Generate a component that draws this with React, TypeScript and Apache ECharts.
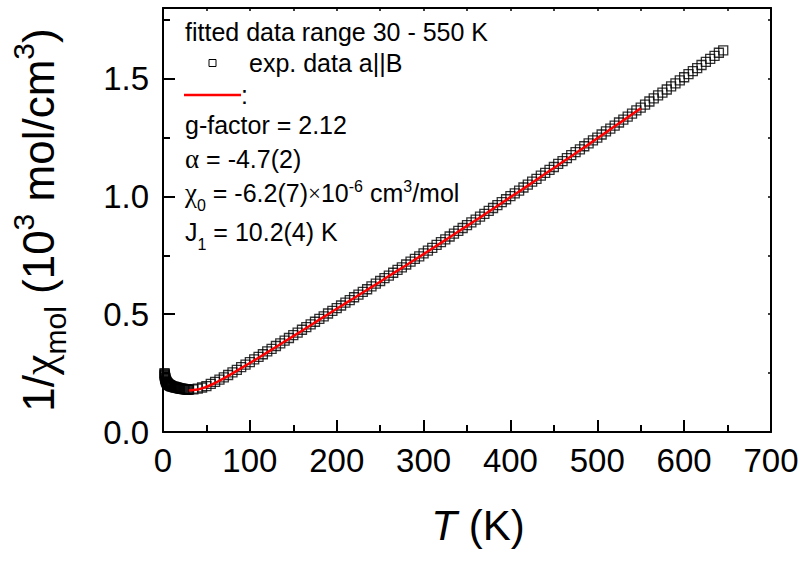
import React, { useEffect, useRef } from 'react';
import * as echarts from 'echarts';

// Low-temperature experimental points (K, 10^3 mol/cm^3)
const lowT = [1.8, 1.9, 2, 2.1, 2.2, 2.4, 2.5, 2.7, 3, 3.3, 3.5, 3.8, 4, 4.5, 5, 5.5, 6, 6.5, 7, 7.5, 8, 8.5, 9, 9.5, 10, 11, 12, 13, 14, 15, 16, 17, 18, 19, 20, 21, 22, 23, 24, 25, 26, 27, 28, 29];
const lowV = [0.250, 0.246, 0.242, 0.239, 0.236, 0.232, 0.229, 0.226, 0.222, 0.219, 0.216, 0.214, 0.212, 0.209, 0.207, 0.205, 0.203, 0.201, 0.200, 0.199, 0.198, 0.197, 0.196, 0.195, 0.194, 0.193, 0.192, 0.191, 0.190, 0.189, 0.188, 0.187, 0.186, 0.185, 0.184, 0.184, 0.183, 0.183, 0.182, 0.182, 0.181, 0.181, 0.180, 0.180];

// Experimental points 30 - 645 K
const expT = [
  30, 35, 40, 45, 50, 55, 60, 65, 70, 75, 80, 85, 90, 95, 100, 105, 110, 115, 120, 125,
  130, 135, 140, 145, 150, 155, 160, 165, 170, 175, 180, 185, 190, 195, 200, 205, 210, 215, 220, 225,
  230, 235, 240, 245, 250, 255, 260, 265, 270, 275, 280, 285, 290, 295, 300, 305, 310, 315, 320, 325,
  330, 335, 340, 345, 350, 355, 360, 365, 370, 375, 380, 385, 390, 395, 400, 405, 410, 415, 420, 425,
  430, 435, 440, 445, 450, 455, 460, 465, 470, 475, 480, 485, 490, 495, 500, 505, 510, 515, 520, 525,
  530, 535, 540, 545, 550, 555, 560, 565, 570, 575, 580, 585, 590, 595, 600, 605, 610, 615, 620, 625,
  630, 635, 640, 645,
];
const expV = [
  0.180, 0.181, 0.184, 0.189, 0.195, 0.204, 0.213, 0.222, 0.232, 0.242, 0.253, 0.264, 0.275, 0.286, 0.297, 0.308, 0.319, 0.330, 0.342, 0.353,
  0.365, 0.376, 0.388, 0.399, 0.411, 0.422, 0.434, 0.445, 0.457, 0.468, 0.480, 0.491, 0.503, 0.514, 0.526, 0.537, 0.549, 0.560, 0.572, 0.583,
  0.595, 0.606, 0.618, 0.630, 0.641, 0.653, 0.664, 0.676, 0.688, 0.699, 0.711, 0.723, 0.735, 0.746, 0.758, 0.770, 0.782, 0.794, 0.806, 0.818,
  0.830, 0.842, 0.854, 0.866, 0.878, 0.890, 0.902, 0.914, 0.926, 0.939, 0.951, 0.963, 0.976, 0.988, 1.001, 1.013, 1.025, 1.038, 1.050, 1.063,
  1.075, 1.088, 1.100, 1.113, 1.125, 1.138, 1.150, 1.163, 1.175, 1.188, 1.200, 1.213, 1.225, 1.238, 1.250, 1.263, 1.276, 1.288, 1.301, 1.314,
  1.326, 1.339, 1.352, 1.365, 1.377, 1.390, 1.403, 1.416, 1.429, 1.441, 1.454, 1.467, 1.480, 1.493, 1.506, 1.519, 1.532, 1.545, 1.558, 1.571,
  1.584, 1.597, 1.610, 1.620,
];

// Fit curve 30 - 550 K
const fitT = [30, 40, 50, 60, 70, 80, 90, 100, 110, 120, 130, 140, 150, 160, 170, 180, 190, 200, 210, 220, 230, 240, 250, 260, 270, 280, 290, 300, 310, 320, 330, 340, 350, 360, 370, 380, 390, 400, 410, 420, 430, 440, 450, 460, 470, 480, 490, 500, 510, 520, 530, 540, 550];
const fitV = [0.176, 0.180, 0.191, 0.208, 0.228, 0.249, 0.271, 0.293, 0.315, 0.338, 0.361, 0.384, 0.407, 0.430, 0.453, 0.477, 0.500, 0.523, 0.546, 0.569, 0.592, 0.615, 0.638, 0.662, 0.685, 0.708, 0.732, 0.755, 0.779, 0.803, 0.827, 0.851, 0.875, 0.899, 0.923, 0.948, 0.972, 0.997, 1.021, 1.046, 1.071, 1.096, 1.121, 1.146, 1.171, 1.196, 1.221, 1.247, 1.272, 1.298, 1.323, 1.349, 1.374];

const X_MIN = 0, X_MAX = 700, X_MAJOR = 100, X_MINOR = 50;
const Y_MIN = 0, Y_MAX = 1.8, Y_MAJOR = 0.5, Y_MINOR = 0.25;

const SANS = '"Liberation Sans", Arial, sans-serif';
const SERIF = '"Liberation Serif", "Times New Roman", serif';

export default function App() {
  const ref = useRef<HTMLDivElement>(null);
  useEffect(() => {
    if (!ref.current) return;
    const chart = echarts.init(ref.current, null, { renderer: 'svg' });
    const axisLine = { show: true, onZero: false, lineStyle: { color: '#000', width: 2 } };
    const noLabel = { show: false };
    const legendFont = 25;
    const rich = {
      n: { fontFamily: SANS, fontSize: legendFont, color: '#000' },
      g: { fontFamily: SERIF, fontSize: legendFont + 2, color: '#000' },
      x: { fontFamily: SERIF, fontSize: legendFont - 2, color: '#000' },
      sub: { fontFamily: SANS, fontSize: 16, color: '#000', padding: [24, 0, 0, 0] },
      sup: { fontFamily: SANS, fontSize: 16, color: '#000', padding: [0, 0, 14, 0] },
    };
    const option: any = {
      animation: false,
      backgroundColor: '#fff',
      grid: { left: 162, right: 35, top: 8, bottom: 131, containLabel: false },
      xAxis: [
        {
          type: 'value', min: X_MIN, max: X_MAX, interval: X_MAJOR, position: 'bottom',
          axisLine,
          axisTick: { show: true, inside: true, length: 12, lineStyle: { color: '#000', width: 2 } },
          axisLabel: { color: '#000', fontFamily: SANS, fontSize: 33, margin: 12 },
          splitLine: { show: false },
          name: '{i|T}{n| (K)}',
          nameLocation: 'middle',
          nameGap: 72,
          nameTextStyle: {
            padding: [0, 0, 0, 22],
            rich: {
              i: { fontFamily: SANS, fontSize: 42, fontStyle: 'italic', color: '#000' },
              n: { fontFamily: SANS, fontSize: 42, color: '#000' },
            },
          },
        },
        {
          type: 'value', min: X_MIN, max: X_MAX, interval: X_MINOR, position: 'bottom',
          axisLine: { show: false, onZero: false },
          axisTick: { show: true, inside: true, length: 7, lineStyle: { color: '#000', width: 2 } },
          axisLabel: noLabel, splitLine: { show: false },
        },
        {
          type: 'value', min: X_MIN, max: X_MAX, interval: X_MINOR, position: 'top',
          axisLine,
          axisTick: { show: true, inside: true, length: 3, lineStyle: { color: '#000', width: 1.5 } },
          axisLabel: noLabel, splitLine: { show: false },
        },
      ],
      yAxis: [
        {
          type: 'value', min: Y_MIN, max: Y_MAX, interval: Y_MAJOR, position: 'left',
          axisLine,
          axisTick: { show: true, inside: true, length: 12, lineStyle: { color: '#000', width: 2 } },
          axisLabel: {
            color: '#000', fontFamily: SANS, fontSize: 33, margin: 14, showMaxLabel: false,
            formatter: (v: number) => v.toFixed(1),
          },
          splitLine: { show: false },
          name: '{n|1/}{g|χ}{sub|mol}{n| (10}{sup|3}{n| mol/cm}{sup|3}{n|)}',
          nameLocation: 'middle',
          nameRotate: 90,
          nameGap: 93,
          nameTextStyle: {
            rich: {
              n: { fontFamily: SANS, fontSize: 44, color: '#000' },
              g: { fontFamily: SERIF, fontSize: 46, color: '#000' },
              sub: { fontFamily: SANS, fontSize: 30, color: '#000', padding: [34, 0, 0, 0] },
              sup: { fontFamily: SANS, fontSize: 30, color: '#000', padding: [0, 0, 30, 0] },
            },
          },
        },
        {
          type: 'value', min: Y_MIN, max: Y_MAX, interval: Y_MINOR, position: 'left',
          axisLine: { show: false, onZero: false },
          axisTick: { show: true, inside: true, length: 7, lineStyle: { color: '#000', width: 2 } },
          axisLabel: noLabel, splitLine: { show: false },
        },
        {
          type: 'value', min: Y_MIN, max: Y_MAX, interval: Y_MINOR, position: 'right',
          axisLine,
          axisTick: { show: true, inside: true, length: 3, lineStyle: { color: '#000', width: 1.5 } },
          axisLabel: noLabel, splitLine: { show: false },
        },
      ],
      series: [
        {
          name: 'exp. data a||B',
          type: 'scatter',
          xAxisIndex: 0, yAxisIndex: 0,
          symbol: 'rect',
          symbolSize: 9,
          itemStyle: { color: 'rgba(0,0,0,0)', borderColor: '#000', borderWidth: 1.3 },
          data: [
            ...lowT.map((t, i) => [t, lowV[i]]),
            ...expT.map((t, i) => [t, expV[i]]),
          ],
          z: 2,
        },
        {
          name: 'fit',
          type: 'line',
          xAxisIndex: 0, yAxisIndex: 0,
          showSymbol: false,
          symbol: 'none',
          lineStyle: { color: '#ff0000', width: 2.5 },
          data: fitT.map((t, i) => [t, fitV[i]]),
          z: 3,
        },
      ],
      graphic: [
        { type: 'text', x: 185, y: 31.5, style: { text: 'fitted data range 30 - 550 K', font: `${legendFont}px ${SANS}`, fill: '#000', verticalAlign: 'middle' } },
        { type: 'rect', shape: { x: 209, y: 59.5, width: 7, height: 7 }, style: { fill: 'none', stroke: '#000', lineWidth: 1 } },
        { type: 'text', x: 249, y: 63, style: { text: 'exp. data a||B', font: `${legendFont}px ${SANS}`, fill: '#000', verticalAlign: 'middle' } },
        { type: 'line', shape: { x1: 184, y1: 95, x2: 241, y2: 95 }, style: { stroke: '#ff0000', lineWidth: 2.5 } },
        { type: 'text', x: 241, y: 95, style: { text: ':', font: `${legendFont}px ${SANS}`, fill: '#000', verticalAlign: 'middle' } },
        { type: 'text', x: 185, y: 125, style: { text: 'g-factor = 2.12', font: `${legendFont}px ${SANS}`, fill: '#000', verticalAlign: 'middle' } },
        { type: 'text', x: 185, y: 159, style: { text: '{g|α}{n| = -4.7(2)}', rich, verticalAlign: 'middle' } },
        { type: 'text', x: 185, y: 193, style: { text: '{g|χ}{sub|0}{n| = -6.2(7)}{x|×}{n|10}{sup|-6}{n| cm}{sup|3}{n|/mol}', rich, verticalAlign: 'middle' } },
        { type: 'text', x: 185, y: 232, style: { text: '{n|J}{sub|1}{n| = 10.2(4) K}', rich, verticalAlign: 'middle' } },
      ],
    };
    chart.setOption(option);
    return () => chart.dispose();
  }, []);
  return <div ref={ref} style={{ position: 'absolute', left: 0, top: 0, width: 806, height: 563 }} />;
}
